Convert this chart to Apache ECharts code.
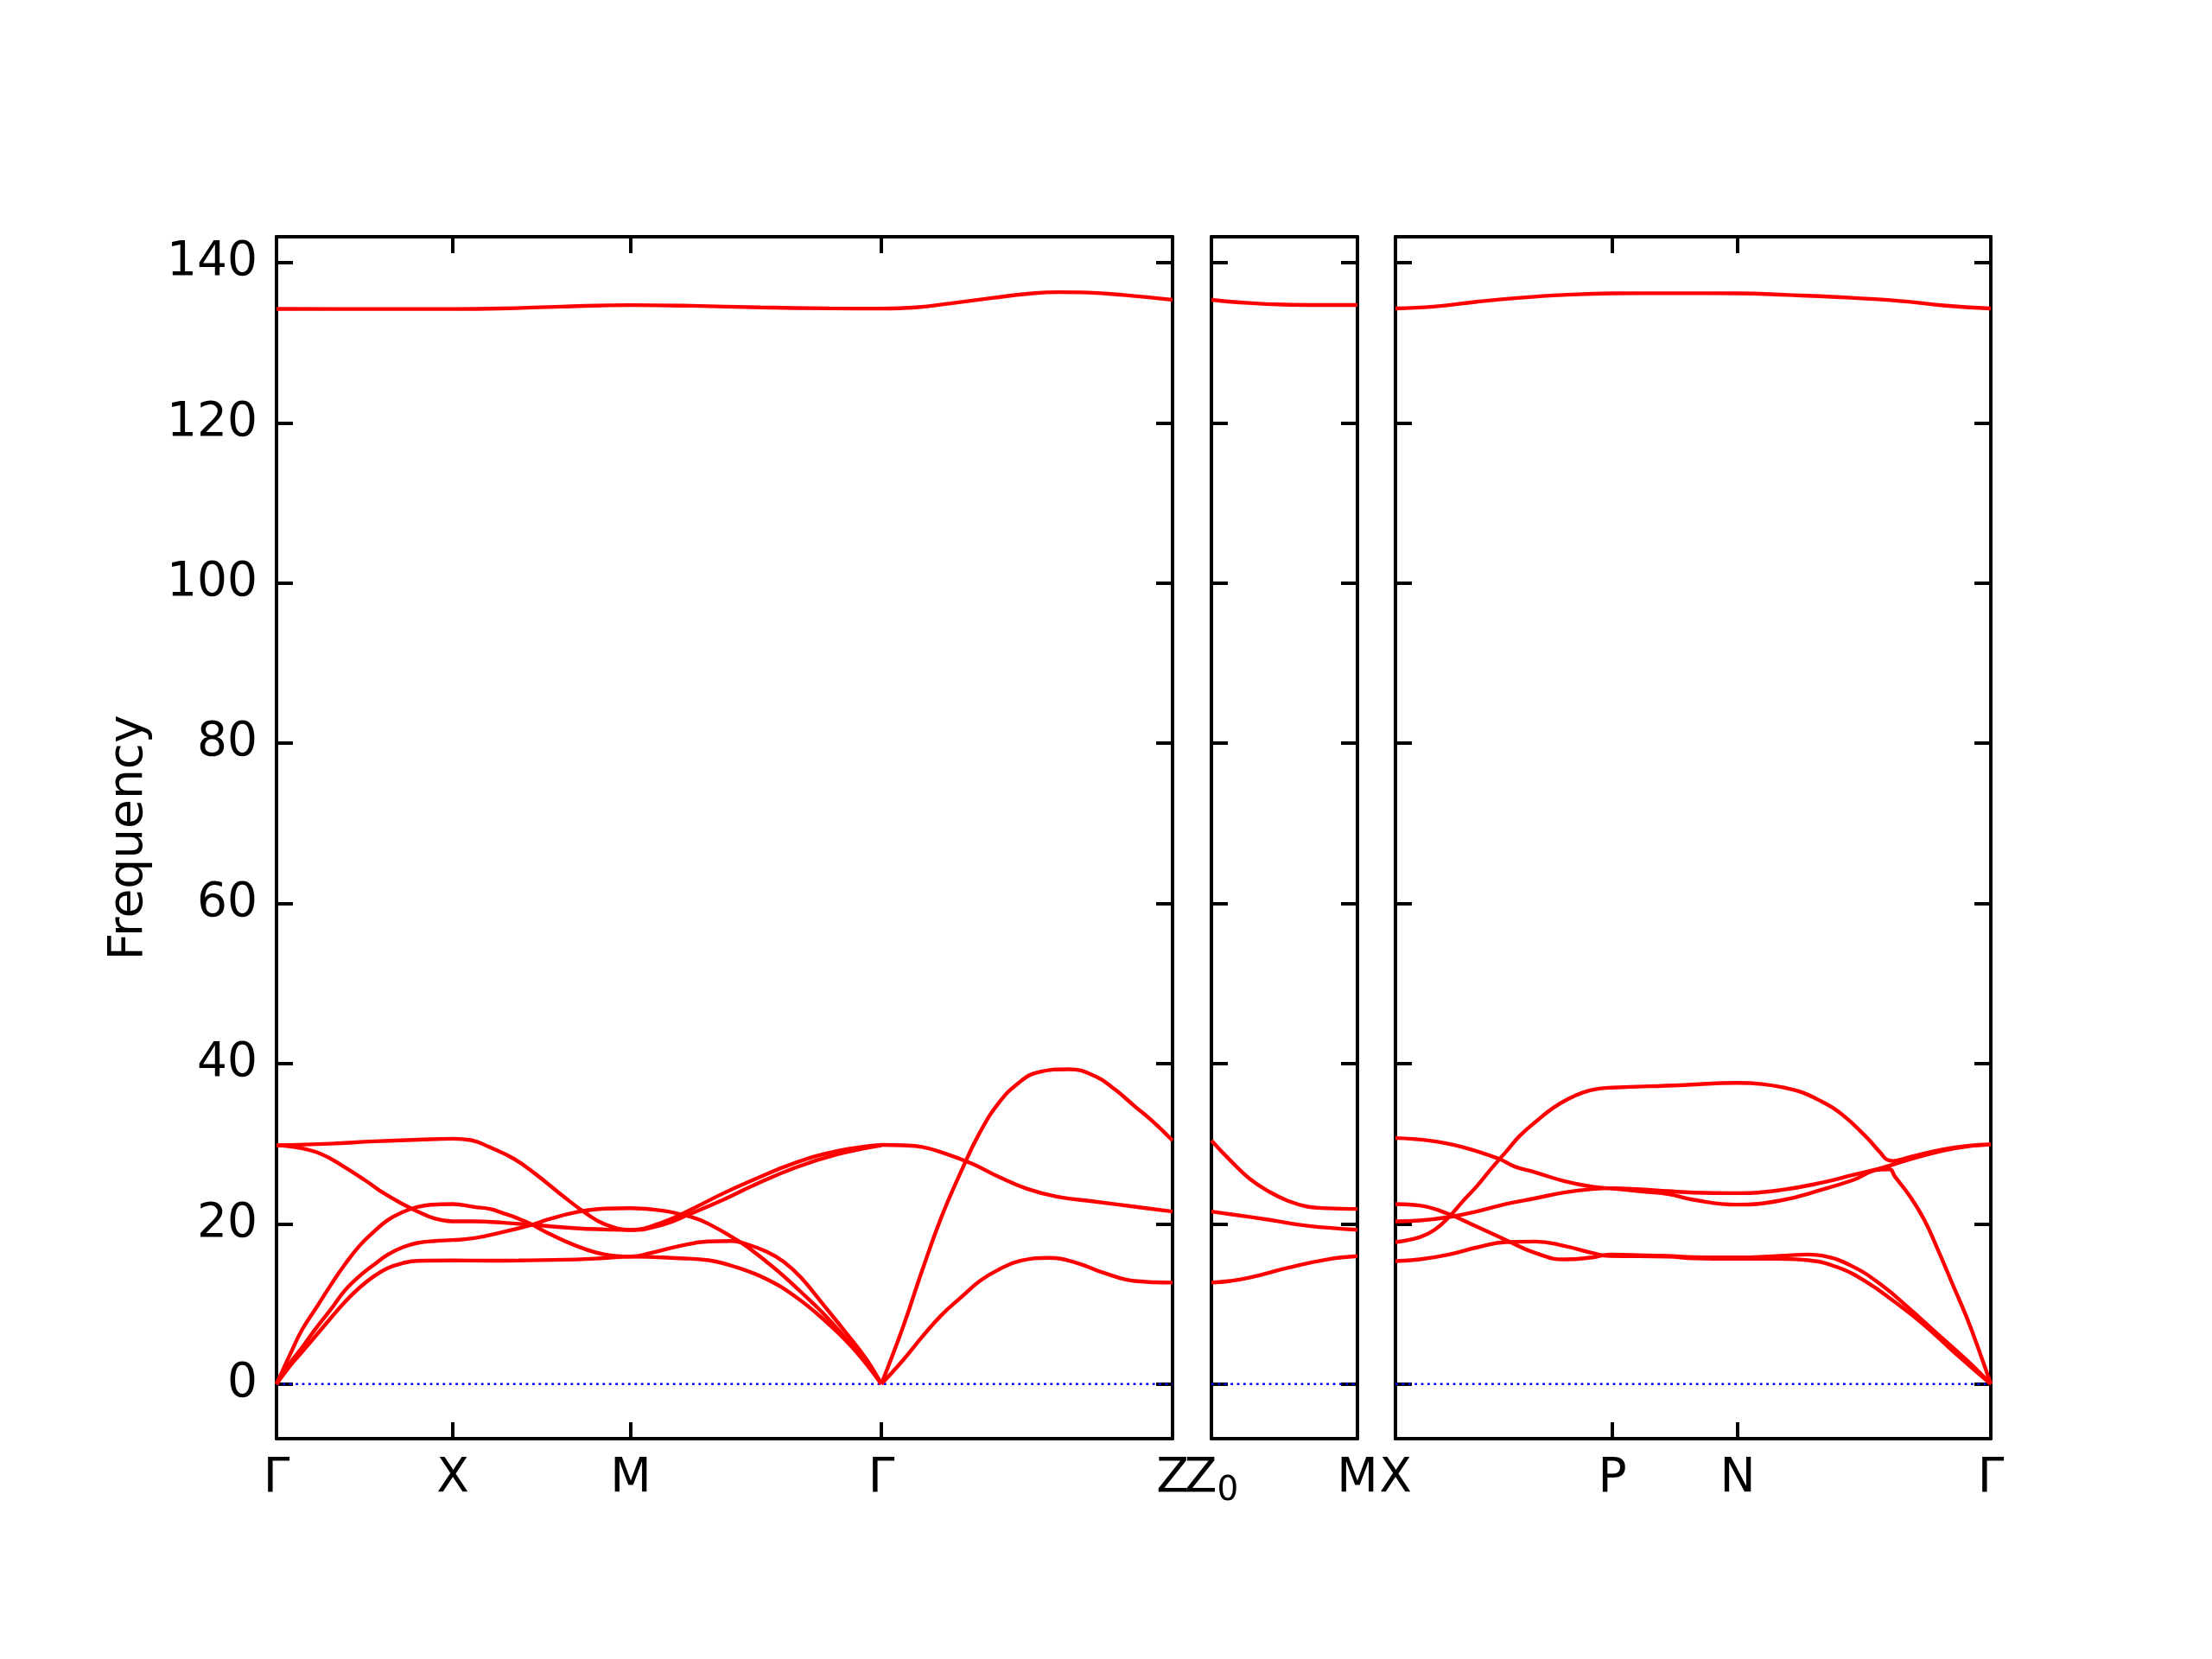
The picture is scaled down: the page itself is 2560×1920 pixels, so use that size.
<!DOCTYPE html>
<html><head><meta charset="utf-8">
<script src="https://cdn.jsdelivr.net/npm/echarts@6/dist/echarts.min.js"></script>
<style>html,body{margin:0;padding:0;background:#fff}#chart{width:2560px;height:1920px}</style>
</head><body><div id="chart"></div>
<script>
// ---------- axis data ----------
const freqTicks = [0, 20, 40, 60, 80, 100, 120, 140];
const freqRange = [-6.82, 143.22];

const panel1Ticks = [0, 0.204, 0.410, 0.700, 1.037];
const panel1Labels = ['Γ', 'X', 'M', 'Γ', 'Z'];
const panel2Ticks = [1.037, 1.206];
const panel2Labels = ['Z_0', 'M'];
const panel3Ticks = [1.206, 1.457, 1.602, 1.895];
const panel3Labels = ['X', 'P', 'N', 'Γ'];

// ---------- band data: panel 1, Γ–X–M–Γ ----------
const p1BandA = [[0,0],[0.016,2.32],[0.029,3.94],[0.046,6.1],[0.063,8.25],[0.079,10.23],[0.096,12.03],[0.113,13.47],[0.129,14.48],[0.146,15.09],[0.163,15.38],[0.204,15.42],[0.247,15.4],[0.28,15.42],[0.347,15.55],[0.38,15.72],[0.41,15.9],[0.467,15.7],[0.5,15.45],[0.533,14.55],[0.567,13.1],[0.6,10.95],[0.633,8.08],[0.667,4.5],[0.7,0]];
const p1BandB = [[0,0],[0.016,2.68],[0.029,4.48],[0.046,7.0],[0.063,9.34],[0.079,11.67],[0.096,13.47],[0.113,14.91],[0.129,16.17],[0.146,17.07],[0.163,17.61],[0.183,17.86],[0.204,17.97],[0.229,18.22],[0.263,19.0],[0.296,19.9],[0.313,20.5],[0.347,21.45],[0.38,21.9],[0.41,21.95],[0.447,21.65],[0.48,20.85],[0.5,20.0],[0.533,17.97],[0.55,16.71],[0.567,15.27],[0.587,13.47],[0.607,11.49],[0.633,8.8],[0.66,5.56],[0.683,2.68],[0.7,0]];
const p1BandC = [[0,0],[0.016,3.76],[0.029,6.66],[0.046,9.52],[0.063,12.39],[0.079,14.91],[0.096,17.25],[0.113,19.05],[0.129,20.49],[0.146,21.46],[0.163,22.1],[0.179,22.39],[0.204,22.47],[0.229,22.1],[0.247,21.85],[0.263,21.3],[0.28,20.65],[0.296,19.9],[0.313,18.9],[0.347,17.25],[0.38,16.17],[0.41,15.92],[0.433,16.35],[0.467,17.25],[0.5,17.8],[0.527,17.86],[0.543,17.5],[0.567,16.53],[0.587,15.27],[0.607,13.29],[0.633,9.88],[0.66,6.28],[0.683,3.04],[0.7,0]];
const p1BandD = [[0,29.8],[0.026,29.5],[0.052,28.7],[0.077,27.2],[0.103,25.4],[0.123,23.9],[0.146,22.47],[0.163,21.56],[0.183,20.67],[0.203,20.31],[0.229,20.3],[0.263,20.13],[0.296,19.87],[0.347,19.45],[0.38,19.3],[0.41,19.22],[0.447,19.9],[0.48,21.3],[0.517,23.0],[0.55,24.7],[0.6,27.0],[0.65,28.7],[0.7,29.8]];
const p1BandE = [[0,29.8],[0.062,30.0],[0.113,30.3],[0.164,30.5],[0.204,30.62],[0.225,30.45],[0.246,29.6],[0.275,28.1],[0.3,26.2],[0.33,23.6],[0.357,21.4],[0.38,19.95],[0.41,19.25],[0.447,20.2],[0.48,21.8],[0.517,23.8],[0.55,25.4],[0.6,27.6],[0.65,29.1],[0.7,29.85]];
// ---------- panel 1, Γ–Z ----------
const p1zLA = [[0.7,0],[0.725,7.09],[0.747,14.1],[0.769,20.7],[0.792,26.47],[0.814,31.4],[0.836,35.1],[0.859,37.6],[0.881,38.9],[0.917,39.3],[0.948,38.4],[0.97,36.8],[0.993,34.7],[1.015,32.7],[1.037,30.4]];
const p1zTA = [[0.7,0],[0.725,2.97],[0.747,5.86],[0.769,8.54],[0.792,10.8],[0.814,12.87],[0.836,14.3],[0.859,15.34],[0.894,15.75],[0.926,15.13],[0.957,13.9],[0.993,12.87],[1.037,12.66]];
const p1zOpt = [[0.7,29.85],[0.725,29.8],[0.747,29.6],[0.769,28.95],[0.805,27.5],[0.836,25.86],[0.868,24.4],[0.903,23.4],[0.948,22.76],[0.993,22.14],[1.037,21.53]];
const p1Top = [[0,134.22],[0.1,134.2],[0.204,134.2],[0.26,134.27],[0.33,134.5],[0.41,134.68],[0.48,134.6],[0.56,134.4],[0.64,134.28],[0.7,134.25],[0.74,134.4],[0.78,134.9],[0.83,135.6],[0.87,136.1],[0.905,136.3],[0.94,136.25],[0.98,135.95],[1.037,135.35]];
// ---------- panel 2, Z0–M ----------
const p2Upper = [[1.037,30.4],[1.059,27.9],[1.081,25.65],[1.104,24.0],[1.126,22.85],[1.148,22.14],[1.171,21.94],[1.206,21.86]];
const p2Mid = [[1.037,21.53],[1.059,21.2],[1.104,20.5],[1.148,19.75],[1.206,19.26]];
const p2Low = [[1.037,12.66],[1.059,12.87],[1.081,13.28],[1.126,14.52],[1.171,15.55],[1.206,15.96]];
const p2Top = [[1.037,135.35],[1.08,134.95],[1.12,134.75],[1.16,134.7],[1.206,134.7]];
// ---------- panel 3, X–P–N–Γ ----------
const p3Band1 = [[1.206,30.7],[1.244,30.4],[1.283,29.6],[1.326,28.1],[1.344,27.14],[1.368,26.42],[1.401,25.34],[1.434,24.62],[1.457,24.4],[1.49,24.05],[1.521,23.73],[1.551,23.0],[1.601,22.4],[1.651,22.9],[1.701,24.3],[1.734,25.4],[1.768,26.78],[1.778,26.8],[1.784,25.9],[1.801,23.5],[1.818,20.49],[1.834,16.71],[1.851,12.4],[1.868,8.08],[1.884,3.4],[1.895,0]];
const p3Band2 = [[1.206,20.3],[1.234,20.41],[1.268,20.85],[1.301,21.57],[1.334,22.47],[1.368,23.19],[1.401,23.9],[1.434,24.34],[1.457,24.45],[1.49,24.3],[1.521,24.09],[1.551,23.9],[1.601,23.83],[1.651,24.2],[1.701,25.17],[1.734,26.06],[1.768,26.96],[1.8,28.0],[1.84,29.15],[1.87,29.7],[1.895,29.9]];
const p3Band3 = [[1.206,17.72],[1.234,18.33],[1.251,19.23],[1.268,20.85],[1.284,22.83],[1.301,24.8],[1.317,26.9],[1.334,29.0],[1.35,31.0],[1.37,32.9],[1.389,34.5],[1.406,35.6],[1.423,36.4],[1.44,36.85],[1.457,37.0],[1.535,37.3],[1.602,37.6],[1.63,37.45],[1.656,37.0],[1.677,36.4],[1.695,35.5],[1.712,34.5],[1.729,33.1],[1.741,31.9],[1.753,30.6],[1.767,28.9],[1.775,28.0],[1.782,27.85],[1.79,28.0],[1.8,28.3],[1.84,29.3],[1.87,29.75],[1.895,29.9]];
const p3Band4 = [[1.206,22.47],[1.234,22.29],[1.268,21.2],[1.301,19.6],[1.334,17.97],[1.368,16.35],[1.401,15.56],[1.434,15.81],[1.454,16.17],[1.48,16.1],[1.521,15.99],[1.551,15.85],[1.601,15.8],[1.651,16.0],[1.684,16.17],[1.701,16.0],[1.734,14.74],[1.768,12.4],[1.801,9.4],[1.834,6.2],[1.868,2.9],[1.895,0]];
const p3Band5 = [[1.206,15.34],[1.234,15.56],[1.268,16.17],[1.301,17.07],[1.334,17.72],[1.368,17.79],[1.401,17.25],[1.434,16.35],[1.454,15.99],[1.521,15.92],[1.551,15.7],[1.601,15.63],[1.651,15.63],[1.684,15.45],[1.718,14.56],[1.751,12.75],[1.784,10.24],[1.818,7.36],[1.851,4.12],[1.895,0]];
const p3Top = [[1.206,134.27],[1.25,134.5],[1.3,135.1],[1.35,135.6],[1.4,135.95],[1.457,136.15],[1.53,136.17],[1.602,136.15],[1.66,135.95],[1.716,135.7],[1.79,135.2],[1.84,134.65],[1.895,134.27]];

const zeroLevel = 0;

// ---------- layout ----------
const FONT = 'DejaVu Sans';
const FS = 55;
const GRID_TOP = 274, GRID_H = 1391;
const panels = [
  {left: 320, width: 1037, ticks: panel1Ticks, labels: panel1Labels,
   curves: [p1BandA, p1BandB, p1BandC, p1BandD, p1BandE, p1Top, p1zLA, p1zTA, p1zOpt]},
  {left: 1402, width: 169, ticks: panel2Ticks, labels: panel2Labels,
   curves: [p2Upper, p2Mid, p2Low, p2Top]},
  {left: 1615, width: 689, ticks: panel3Ticks, labels: panel3Labels,
   curves: [p3Band1, p3Band2, p3Band3, p3Band4, p3Band5, p3Top]}
];

const axisLine = {show: true, onZero: false, lineStyle: {color: '#000', width: 4}};
const tickStyle = {color: '#000', width: 4};
const richLabel = {
  n: {fontSize: FS, fontFamily: FONT, color: '#000', verticalAlign: 'top'},
  s: {fontSize: 39, fontFamily: FONT, color: '#000', verticalAlign: 'top', padding: [22, 0, 0, 0]}
};

const grid = [], xAxis = [], yAxis = [], series = [];
panels.forEach((p, i) => {
  const xmin = p.ticks[0], xmax = p.ticks[p.ticks.length - 1];
  grid.push({left: p.left, top: GRID_TOP, width: p.width, height: GRID_H, containLabel: false});
  const fmt = (v) => {
    let best = 0, bd = Infinity;
    p.ticks.forEach((t, k) => { const d = Math.abs(t - v); if (d < bd) { bd = d; best = k; } });
    const name = p.labels[best];
    const parts = name.split('_');
    return parts.length > 1 ? '{n|' + parts[0] + '}{s|' + parts[1] + '}' : '{n|' + name + '}';
  };
  ['bottom', 'top'].forEach((pos) => {
    xAxis.push({
      type: 'value', gridIndex: i, position: pos, min: xmin, max: xmax,
      axisLine: axisLine,
      axisTick: {show: true, inside: true, length: 19, customValues: p.ticks, lineStyle: tickStyle},
      axisLabel: {show: pos === 'bottom', customValues: p.ticks, formatter: fmt, margin: 19,
        color: '#000', fontSize: FS, fontFamily: FONT, showMinLabel: true, showMaxLabel: true, rich: richLabel},
      splitLine: {show: false}
    });
  });
  ['left', 'right'].forEach((pos) => {
    const main = (i === 0 && pos === 'left');
    yAxis.push({
      type: 'value', gridIndex: i, position: pos, min: freqRange[0], max: freqRange[1],
      axisLine: axisLine,
      axisTick: {show: true, inside: true, length: 19, customValues: freqTicks, lineStyle: tickStyle},
      axisLabel: {show: main, customValues: freqTicks, margin: 22, color: '#000', fontSize: FS,
        fontFamily: FONT, padding: [21, 0, 0, 0]},
      splitLine: {show: false},
      name: main ? 'Frequency' : '',
      nameLocation: 'middle', nameGap: 143,
      nameTextStyle: {color: '#000', fontSize: FS, fontFamily: FONT}
    });
  });
  series.push({
    type: 'line', xAxisIndex: 2 * i, yAxisIndex: 2 * i,
    data: [[xmin, zeroLevel], [xmax, zeroLevel]],
    symbol: 'none', silent: true, z: 2,
    lineStyle: {color: '#0000ff', width: 2.6, type: [2.8, 4.6]}
  });
  p.curves.forEach((c) => {
    series.push({
      type: 'line', xAxisIndex: 2 * i, yAxisIndex: 2 * i, data: c,
      symbol: 'none', showSymbol: false, smooth: 0.45, silent: true, z: 3,
      lineStyle: {color: '#ff0000', width: 4.4}
    });
  });
});

const chart = echarts.init(document.getElementById('chart'), null, {renderer: 'canvas'});
chart.setOption({backgroundColor: '#ffffff', animation: false, grid, xAxis, yAxis, series});
</script></body></html>
